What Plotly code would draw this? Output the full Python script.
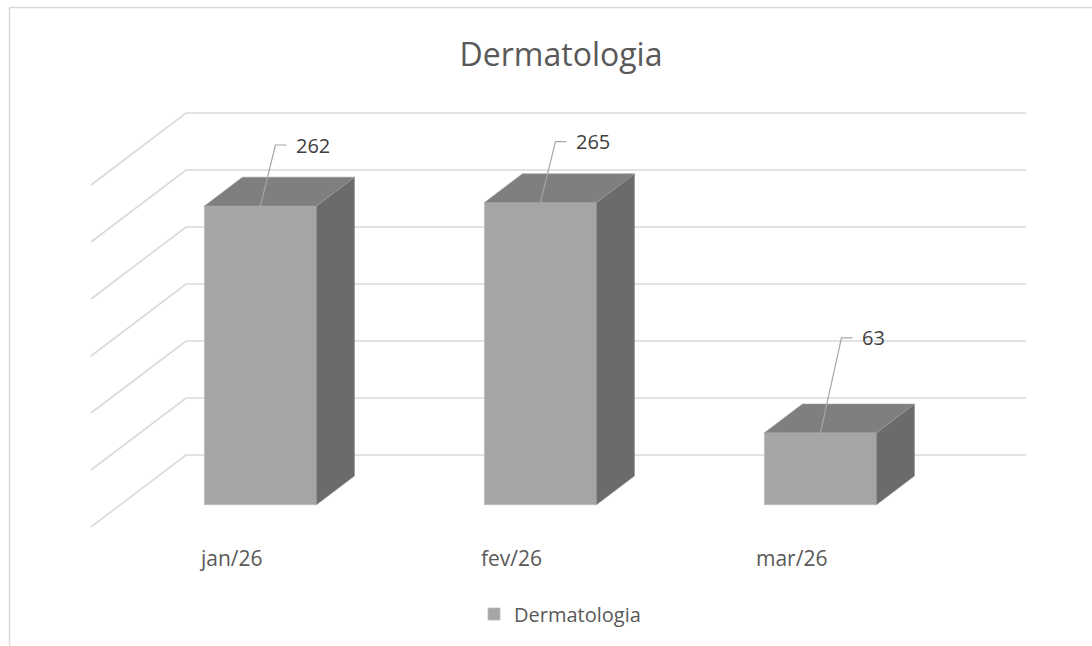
import plotly.graph_objects as go

# ---- data ----
categories = ["jan/26", "fev/26", "mar/26"]
values = [262, 265, 63]
series_name = "Dermatologia"
grid_values = [0, 50, 100, 150, 200, 250, 300]

# ---- pseudo-3D projection settings (style) ----
W, H = 1092, 646
PX_PER_CAT = 280.0          # horizontal pixels per category step
PX_PER_VAL = 1.14           # vertical pixels per value unit
DEPTH_DX_PX = 95.0          # floor depth shift (front -> back), pixels right
DEPTH_DY_PX = 72.0          # floor depth shift (front -> back), pixels up
X0_PX, Y0_PX = 231.0, 527.0 # pixel of category 0, value 0, front of floor
BAR_HALF = 0.2              # half bar width, in categories
D_FRONT, D_BACK = 0.31, 0.71
label_offsets_px = [(15, -61), (15, -61), (21, -95)]  # leader bend offsets

DX_UNIT = DEPTH_DX_PX / PX_PER_CAT
DY_UNIT = DEPTH_DY_PX / PX_PER_VAL


def proj(c, v, d):
    """(category, value, depth) -> axis coordinates."""
    return c + DX_UNIT * d, v + DY_UNIT * d


x_range = [-X0_PX / PX_PER_CAT, (W - X0_PX) / PX_PER_CAT]
y_range = [(Y0_PX - H) / PX_PER_VAL, Y0_PX / PX_PER_VAL]

GRID = "#d9d9d9"
FRONT = "#a5a5a5"
TOP = "#7f7f7f"
SIDE = "#6b6b6b"
TEXT = "#595959"
FONT = "Open Sans"

fig = go.Figure()

shapes = []
# gridlines: back wall + left side wall (drawn below the bars)
for gv in grid_values:
    p0 = proj(-0.5, gv, 0)
    p1 = proj(-0.5, gv, 1)
    p2 = proj(len(categories) - 0.5, gv, 1)
    path = f"M{p0[0]},{p0[1]} L{p1[0]},{p1[1]} L{p2[0]},{p2[1]}"
    shapes.append(dict(type="path", xref="x", yref="y", path=path, layer="below",
                       line=dict(color=GRID, width=1.6)))

# side and top faces
sx, sy, tx, ty = [], [], [], []
for i, v in enumerate(values):
    side = [proj(i + BAR_HALF, 0, D_FRONT), proj(i + BAR_HALF, v, D_FRONT),
            proj(i + BAR_HALF, v, D_BACK), proj(i + BAR_HALF, 0, D_BACK),
            proj(i + BAR_HALF, 0, D_FRONT)]
    top = [proj(i - BAR_HALF, v, D_FRONT), proj(i + BAR_HALF, v, D_FRONT),
           proj(i + BAR_HALF, v, D_BACK), proj(i - BAR_HALF, v, D_BACK),
           proj(i - BAR_HALF, v, D_FRONT)]
    for px, py in side:
        sx.append(px); sy.append(py)
    sx.append(None); sy.append(None)
    for px, py in top:
        tx.append(px); ty.append(py)
    tx.append(None); ty.append(None)

# front faces as real bars
front_x = [proj(i, 0, D_FRONT)[0] for i in range(len(categories))]
base = proj(0, 0, D_FRONT)[1]
fig.add_trace(go.Bar(x=front_x, y=values, base=[base] * len(values),
                     width=2 * BAR_HALF, name=series_name,
                     marker=dict(color=FRONT, line=dict(color="#bdbdbd", width=0.8)),
                     hovertext=categories, hoverinfo="text+y"))

fig.add_trace(go.Scatter(x=sx, y=sy, mode="lines", fill="toself", fillcolor=SIDE,
                         line=dict(color="#8c8c8c", width=0.6), hoverinfo="skip",
                         showlegend=False))
fig.add_trace(go.Scatter(x=tx, y=ty, mode="lines", fill="toself", fillcolor=TOP,
                         line=dict(color="#9a9a9a", width=0.6), hoverinfo="skip",
                         showlegend=False))

# data labels with leader lines
annotations = []
lx, ly = [], []
for i, v in enumerate(values):
    sxp, syp = proj(i, v, D_FRONT)
    ox, oy = label_offsets_px[i]
    bx = sxp + ox / PX_PER_CAT
    by = syp - oy / PX_PER_VAL
    ex = bx + 11 / PX_PER_CAT
    lx += [sxp, bx, ex, None]
    ly += [syp, by, by, None]
    annotations.append(dict(x=ex, y=by, text=str(v), showarrow=False, xanchor="left",
                            yanchor="middle", xshift=8,
                            font=dict(family=FONT, size=20, color="#404040")))
fig.add_trace(go.Scatter(x=lx, y=ly, mode="lines", line=dict(color="#a6a6a6", width=1.2),
                         hoverinfo="skip", showlegend=False))

# category labels at front of floor
for i, cat in enumerate(categories):
    cx, _ = proj(i, 0, 0)
    annotations.append(dict(x=cx, y=-(558 - Y0_PX) / PX_PER_VAL, text=cat, showarrow=False,
                            xanchor="center", yanchor="middle",
                            font=dict(family=FONT, size=21, color=TEXT)))

# chart-area border (top and left edges visible)
shapes += [
    dict(type="line", xref="paper", yref="paper", x0=9.5 / W, x1=1.0,
         y0=1 - 7.5 / H, y1=1 - 7.5 / H, line=dict(color=GRID, width=1.5)),
    dict(type="line", xref="paper", yref="paper", x0=9.5 / W, x1=9.5 / W,
         y0=0, y1=1 - 7.5 / H, line=dict(color=GRID, width=1.5)),
]

fig.update_layout(
    width=W, height=H, autosize=False,
    margin=dict(l=0, r=0, t=0, b=0),
    paper_bgcolor="white", plot_bgcolor="white",
    xaxis=dict(range=x_range, visible=False, fixedrange=True),
    yaxis=dict(range=y_range, visible=False, fixedrange=True),
    title=dict(text="Dermatologia", x=561 / W, y=1 - 55 / H, xanchor="center",
               yanchor="middle", font=dict(family=FONT, size=32, color=TEXT)),
    showlegend=True,
    legend=dict(x=474 / W, y=1 - 614 / H, xanchor="left", yanchor="middle",
                orientation="h", font=dict(family=FONT, size=20, color=TEXT),
                bgcolor="rgba(0,0,0,0)", itemwidth=30),
    annotations=annotations,
    shapes=shapes,
)

fig.write_html("out.html",
               config={"displayModeBar": False},
               post_script="document.body.style.margin='0';document.body.style.overflow='hidden';")
